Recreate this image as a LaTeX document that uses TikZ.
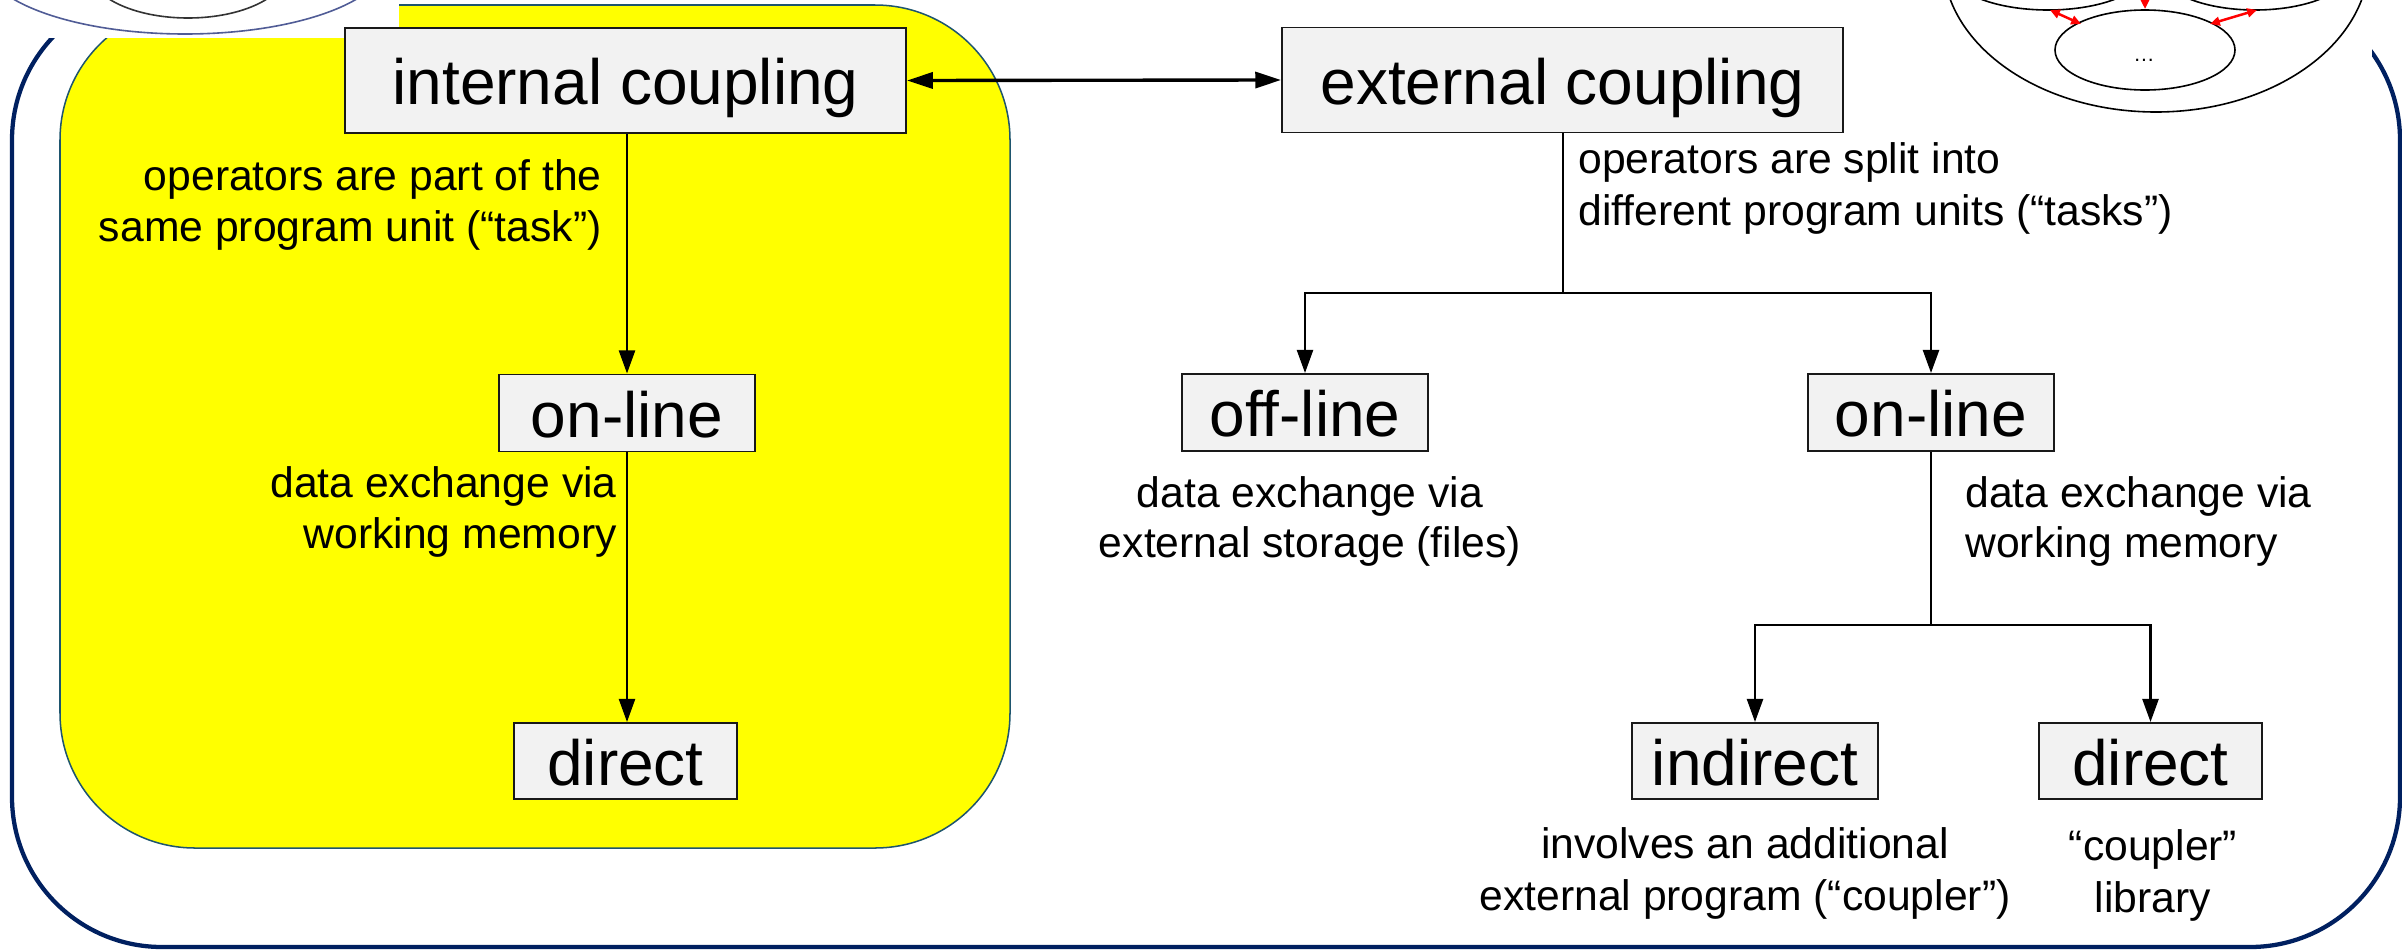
\documentclass[tikz,border=0pt]{standalone}
\usepackage{fontspec}
\setmainfont{Liberation Sans}
\usetikzlibrary{arrows.meta}
\definecolor{navyframe}{RGB}{0,32,96}
\definecolor{boxgray}{RGB}{242,242,242}
\definecolor{hilite}{RGB}{255,255,0}
\definecolor{hiliteedge}{RGB}{30,85,110}
\definecolor{slateedge}{RGB}{80,92,150}
\definecolor{arrred}{RGB}{255,0,0}

\begin{document}
\begin{tikzpicture}[x=0.5625pt,y=-0.5625pt,
  term/.style={draw=black!90, line width=1.1pt, fill=boxgray, inner sep=0pt,
    text height=30pt, text depth=3pt, font=\fontsize{36}{43}\selectfont},
  topterm/.style={term, minimum width=561*0.5625pt, minimum height=105*0.5625pt},
  midterm/.style={term, minimum width=246*0.5625pt, minimum height=77*0.5625pt},
  lowterm/.style={term, minimum width=223*0.5625pt, minimum height=76*0.5625pt},
  note/.style={inner sep=0pt, font=\fontsize{24}{29}\selectfont},
  link/.style={line width=1.4pt, -{Triangle[length=13pt,width=9pt]}},
  plainlink/.style={line width=1.4pt},
  dlink/.style={line width=1.9pt, {Triangle[length=14.5pt,width=9pt]}-{Triangle[length=14.5pt,width=9pt]}},
  redlink/.style={arrred, line width=1.4pt, {Triangle[length=5.5pt,width=5pt]}-{Triangle[length=5.5pt,width=5pt]}},
  redtip/.style={arrred, line width=1.4pt, -{Triangle[length=5.5pt,width=5pt]}},
  ring/.style={black, line width=0.9pt}
]
\useasboundingbox (0,0) rectangle (2402,949);
\fill[white] (0,0) rectangle (2402,949);

% outer frame
\draw[navyframe, line width=2.4pt, rounded corners=150*0.5625pt] (12,-10) rectangle (2400,947);

% highlighted internal-coupling region
\draw[hiliteedge, fill=hilite, line width=0.85pt, rounded corners=135*0.5625pt] (60,5) rectangle (1010,848);

% small ellipse sketch, top left
\fill[white] (0,0) rectangle (399,38);
\begin{scope}
  \clip (0,0) rectangle (399,38);
  \draw[slateedge, line width=0.9pt] (185,-40) ellipse [x radius=202, y radius=74];
  \draw[black!80, line width=0.9pt] (188,-30) ellipse [x radius=99, y radius=48];
\end{scope}

% small ellipse sketch, top right
\fill[white] (1930,0) rectangle (2372,125);
\begin{scope}
  \clip (1930,0) rectangle (2372,125);
  \draw[ring] (2156,-40) ellipse [x radius=213, y radius=152];
  \draw[ring] (2048,-30) ellipse [x radius=98, y radius=40];
  \draw[ring] (2255,-30) ellipse [x radius=95, y radius=40];
  \draw[ring] (2145,50) ellipse [x radius=90, y radius=40];
  \node[inner sep=0pt, anchor=base, font=\fontsize{12}{14}\selectfont] (dots) at (2144,61) {…};
  \draw[redlink] (2050,10) -- (2081,24);
  \draw[redlink] (2210,24) -- (2257,10);
  \coordinate (redtop) at (2145,-20);
  \coordinate (redend) at (2145,9);
  \draw[redtip] (redtop) -- (redend);
\end{scope}

% boxes
\node[topterm] (intc) at (625.5,80.5) {internal coupling};
\node[topterm] (extc) at (1562.5,80) {external coupling};
\node[midterm, minimum width=256*0.5625pt] (onL) at (627,413) {on-line};
\node[lowterm] (dirL) at (625.5,761) {direct};
\node[midterm] (offR) at (1305,412.5) {off-line};
\node[midterm] (onR) at (1931,412.5) {on-line};
\node[lowterm, minimum width=246*0.5625pt] (indR) at (1755,761) {indirect};
\node[lowterm] (dirR) at (2150.5,761) {direct};

% connectors
\draw[dlink] (intc.east) -- (extc.west);
\draw[link] (onL.north |- intc.south) -- (onL.north);
\draw[link] (onL.south) -- (onL.south |- dirL.north);

\coordinate (splitA) at (1563,293);
\draw[plainlink] (extc.south -| splitA) -- (splitA);
\draw[link] (splitA) -| (offR.north);
\draw[link] (splitA) -| (onR.north);

\coordinate (splitB) at (1931,625);
\draw[plainlink] (onR.south) -- (splitB);
\draw[link] (splitB) -| (indR.north);
\draw[link] (splitB) -| (dirR.north);

% annotations
\node[note, anchor=base east] (intA) at (602,190) {operators are part of the};
\node[note, anchor=base east] (intB) at (602,241) {same program unit (“task”)};
\node[note, anchor=base west] (extA) at (1578,173) {operators are split into};
\node[note, anchor=base west] (extB) at (1578,225) {different program units (“tasks”)};
\node[note, anchor=base east] (onLA) at (617,497) {data exchange via};
\node[note, anchor=base east] (onLB) at (617,548) {working memory};
\node[note, anchor=base] (offA) at (1310,507) {data exchange via};
\node[note, anchor=base] (offB) at (1310,557) {external storage (files)};
\node[note, anchor=base west] (onRA) at (1965,507) {data exchange via};
\node[note, anchor=base west] (onRB) at (1965,557) {working memory};
\node[note, anchor=base] (indA) at (1745,858) {involves an additional};
\node[note, anchor=base] (indB) at (1745,910) {external program (“coupler”)};
\node[note, anchor=base] (dirA) at (2153,860) {“coupler”};
\node[note, anchor=base] (dirB) at (2153,912) {library};
\end{tikzpicture}
\end{document}
